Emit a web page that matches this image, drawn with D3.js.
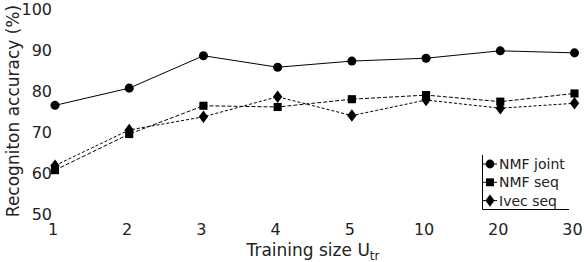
<!DOCTYPE html>
<html><head><meta charset="utf-8">
<script src="https://cdn.jsdelivr.net/npm/d3@7"></script>
<style>body{margin:0;background:#fff}svg{display:block}text{font-family:"DejaVu Sans",sans-serif;fill:#222}</style>
</head><body><svg id="c" width="584" height="262"></svg>
<script>
const categories = ["1","2","3","4","5","10","20","30"];
const nmfJoint = [76.5, 80.7, 88.6, 85.8, 87.3, 88.0, 89.8, 89.3];
const nmfSeq   = [60.7, 69.5, 76.4, 76.1, 78.0, 79.0, 77.4, 79.4];
const ivecSeq  = [61.8, 70.5, 73.7, 78.6, 74.0, 77.8, 75.8, 77.0];
const yTicks = [50, 60, 70, 80, 90, 100];
const seriesNames = ["NMF joint", "NMF seq", "Ivec seq"];

const svg = d3.select("#c");
const x = d3.scalePoint().domain(categories).range([55, 574.5]);
const y = d3.scaleLinear().domain([50, 100]).range([214, 9]);

// y tick labels
svg.append("g").selectAll("text").data(yTicks).join("text")
  .attr("x", 52).attr("y", d => y(d)).attr("dy", "0.36em")
  .attr("text-anchor", "end").attr("font-size", 16).text(d => d);
// x tick labels
svg.append("g").selectAll("text").data(categories).join("text")
  .attr("x", d => x(d) - 2).attr("y", 229).attr("dy", "0.36em")
  .attr("text-anchor", "middle").attr("font-size", 16).text(d => d);

// axis titles
svg.append("text").attr("transform", "translate(18.5,111) rotate(-90)")
  .attr("text-anchor", "middle").attr("font-size", 17).text("Recogniton accuracy (%)");
const xt = svg.append("text").attr("x", 313).attr("y", 256).attr("text-anchor", "middle").attr("font-size", 17);
xt.append("tspan").text("Training size U");
xt.append("tspan").attr("font-size", 12).attr("dy", 4).text("tr");

const series = [
  {name: seriesNames[0], vals: nmfJoint, dash: null, sym: d3.symbolCircle, size: 64, sx: 1},
  {name: seriesNames[1], vals: nmfSeq, dash: "4,2", sym: d3.symbolSquare, size: 66, sx: 1},
  {name: seriesNames[2], vals: ivecSeq, dash: "3,2", sym: d3.symbolDiamond, size: 45, sx: 1.3}
];
const line = d3.line().x((d, i) => x(categories[i])).y(d => y(d));

series.slice().reverse().forEach(s => {
  svg.append("path").datum(s.vals).attr("d", line)
    .attr("fill", "none").attr("stroke", "#000").attr("stroke-width", 1)
    .attr("stroke-dasharray", s.dash);
  svg.append("g").selectAll("path").data(s.vals).join("path")
    .attr("d", d3.symbol().type(s.sym).size(s.size))
    .attr("transform", (d, i) => `translate(${x(categories[i])},${y(d)}) scale(${s.sx},1)`)
    .attr("fill", "#000");
});

// legend
const lg = svg.append("g");
lg.append("path").attr("d", "M482.5,155V209.5H569").attr("fill", "none").attr("stroke", "#000").attr("stroke-width", 1);
series.forEach((s, i) => {
  const ly = 164 + i * 18.3;
  lg.append("line").attr("x1", 483).attr("x2", 497).attr("y1", ly).attr("y2", ly).attr("stroke", "#000");
  lg.append("path").attr("d", d3.symbol().type(s.sym).size(s.size * 0.95))
    .attr("transform", `translate(490,${ly}) scale(${s.sx},1)`).attr("fill", "#000");
  lg.append("text").attr("x", 499).attr("y", ly).attr("dy", "0.36em").attr("font-size", 14).text(s.name);
});
</script></body></html>
